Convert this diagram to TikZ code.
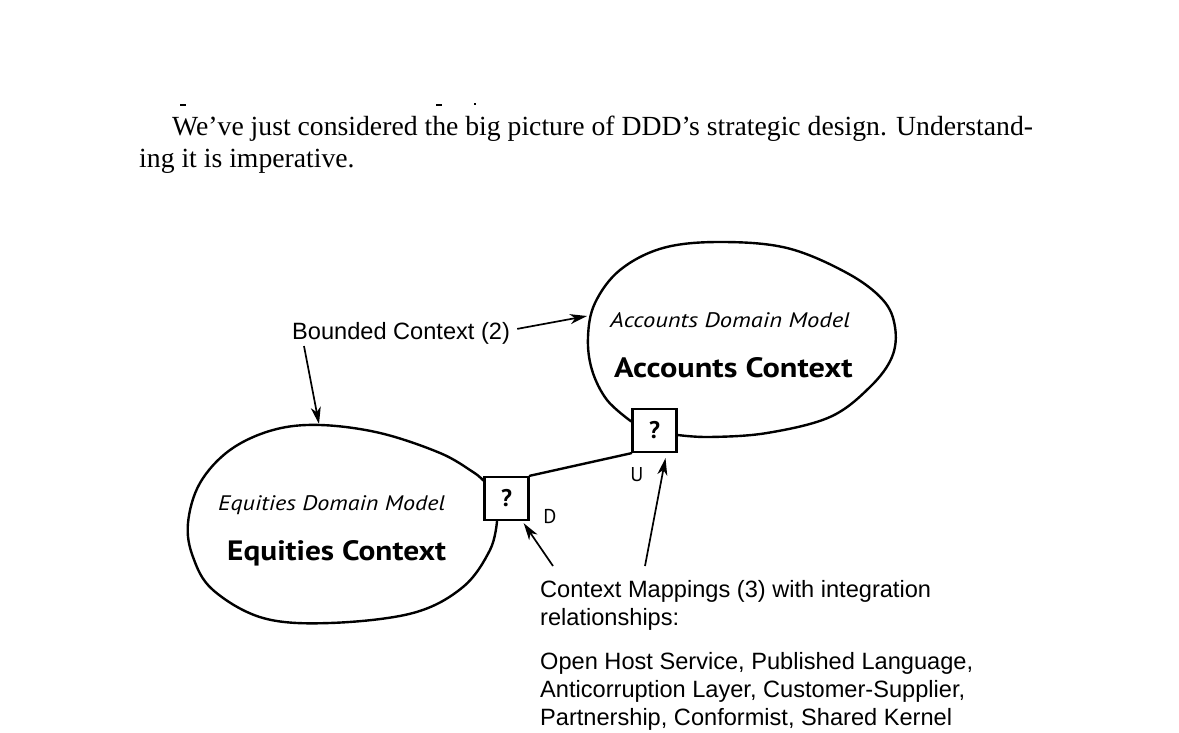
\documentclass[tikz,border=0pt]{standalone}
\usepackage{fontspec}
\usepackage{graphicx}
\setmainfont{Liberation Serif}
\newfontfamily\labelfont{Liberation Sans}
\newfontfamily\handfont{PT Sans}
\usetikzlibrary{arrows.meta}
\begin{document}
\begin{tikzpicture}[x=1pt,y=-1pt,
  blob/.style={line width=2.4pt, line join=round, line cap=round},
  mapbox/.style={draw, line width=2.4pt, minimum width=44pt, minimum height=43pt, inner sep=0pt, fill=white,
    font=\handfont\bfseries\fontsize{24}{24}\selectfont},
  ptr/.style={line width=1.7pt, -{Stealth[length=17pt,width=10pt,inset=5pt]}},
  lbl/.style={font=\labelfont\fontsize{23.6}{28}\selectfont, inner sep=0pt, anchor=base west},
  body/.style={font=\fontsize{27.7}{35}\selectfont, inner sep=0pt, anchor=base west},
  hand/.style={font=\handfont\itshape\fontsize{21}{21}\selectfont, inner sep=0pt, anchor=west},
  handbig/.style={font=\handfont\bfseries\fontsize{28}{28}\selectfont, inner sep=0pt, anchor=west},
  ud/.style={font=\handfont\fontsize{20}{20}\selectfont, inner sep=0pt}
]
\useasboundingbox (0,0) rectangle (1179,733);
\fill[white] (0,0) rectangle (1179,733);

% clipped descenders of the previous line
\fill (180,104) rectangle (186,106);
\fill (436,104) rectangle (442,106);
\fill (474,103) rectangle (476,105);

% body text
\node[body] (t1) at (172,136) {We’ve just considered the big picture of DDD’s strategic design. Understand-};
\node[body] (t2) at (139,168) {ing it is imperative.};

% context mapping boxes
\node[mapbox] (U) at (654.5,430.5) {?};
\node[mapbox] (D) at (506.5,498.5) {?};

% accounts blob
\draw[blob] plot[smooth, tension=0.6] coordinates {([yshift=9pt]U.west) (607,400) (592,370) (588,337) (595,303) (620,270) (663,248) (720,242) (787,248) (847,273) (883,300) (895,327) (892,357) (870,387) (830,417) (767,433) (710,437) ([yshift=-4.5pt]U.east)};

% equities blob
\draw[blob] plot[smooth, tension=0.6] coordinates {([yshift=18pt]D.west) (473,472) (440,453) (380,433) (320,425) (273,430) (230,450) (200,483) (188,523) (193,557) (213,590) (263,618) (330,623) (413,613) (463,587) (490,550) ([xshift=-9.5pt]D.south)};

% relation
\draw[blob] (D.north east) -- (U.south west);

% blob texts
\node[hand] (adm) at (610,320) {\scalebox{1.17}[1]{Accounts Domain Model}};
\node[handbig] (actx) at (614,368) {\scalebox{1.155}[1]{Accounts Context}};
\node[hand] (edm) at (218,505) {\scalebox{1.15}[1]{Equities Domain Model}};
\node[handbig] (ectx) at (227,553) {\scalebox{1.12}[1]{Equities Context}};
\node[ud] (ulab) at (637,475) {U};
\node[ud] (dlab) at (550,517) {D};

% labels
\node[lbl] (bc) at (292,339) {Bounded Context (2)};
\node[lbl] (cm1) at (540,597) {Context Mappings (3) with integration};
\node[lbl] (cm2) at (540,625) {relationships:};
\node[lbl] (cm3) at (540,669) {Open Host Service, Published Language,};
\node[lbl] (cm4) at (540,697) {Anticorruption Layer, Customer-Supplier,};
\node[lbl] (cm5) at (540,725) {Partnership, Conformist, Shared Kernel};

% pointers
\coordinate (acctHit) at (587,316);
\coordinate (eqHit) at (319,424);
\coordinate (cmA) at (553,566);
\coordinate (cmB) at (645,566);
\draw[ptr] ([xshift=7pt,yshift=4pt]bc.east) -- (acctHit);
\draw[ptr] ([xshift=12pt,yshift=-2pt]bc.south west) -- (eqHit);
\draw[ptr] (cmA) -- ([xshift=-6pt,yshift=-2pt]D.south east);
\draw[ptr] (cmB) -- ([xshift=11pt,yshift=-5pt]U.south);
\end{tikzpicture}
\end{document}
